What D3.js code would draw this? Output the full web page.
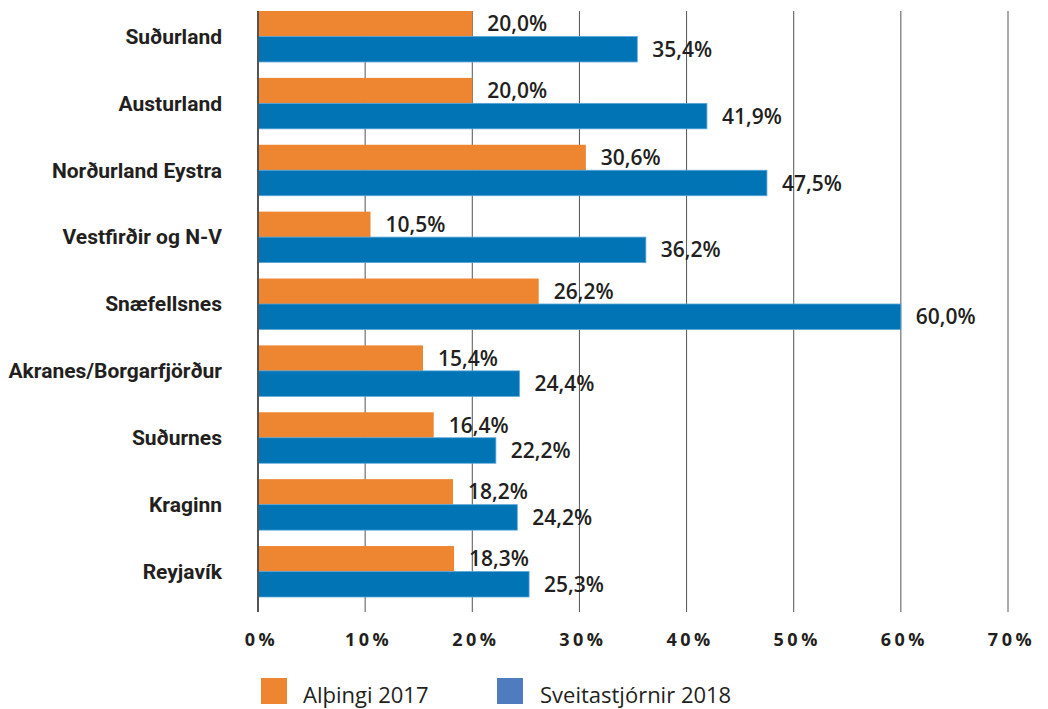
<!DOCTYPE html>
<html>
<head>
<meta charset="utf-8">
<script src="https://cdn.jsdelivr.net/npm/d3@7/dist/d3.min.js"></script>
<style>
  html, body { margin: 0; padding: 0; background: #fff; }
  svg { display: block; }
</style>
</head>
<body>
<svg id="chart" width="1048" height="709"></svg>
<script>
// Kjördæmi, top to bottom
const categories = [
  "Suðurland", "Austurland", "Norðurland Eystra", "Vestfirðir og N-V",
  "Snæfellsnes", "Akranes/Borgarfjörður", "Suðurnes", "Kraginn", "Reyjavík"
];
const seriesNames = ["Alþingi 2017", "Sveitastjórnir 2018"];
const althingi2017 = [20.0, 20.0, 30.6, 10.5, 26.2, 15.4, 16.4, 18.2, 18.3];
const sveitastjornir2018 = [35.4, 41.9, 47.5, 36.2, 60.0, 24.4, 22.2, 24.2, 25.3];
const tickValues = [0, 10, 20, 30, 40, 50, 60, 70];

const barColors = ["#EE8530", "#0074B4"];
const legendColors = ["#EE8530", "#4F7BBF"];

const svg = d3.select("#chart");

const x = d3.scaleLinear().domain([0, 70]).range([258, 1008]);
const y = d3.scaleBand().domain(categories)
  .range([11, 597]).paddingInner(0.238).paddingOuter(0);
const ySub = d3.scaleBand().domain(seriesNames).range([0, y.bandwidth()]);

const gridTop = 11, gridBottom = 612;

// vertical gridlines
svg.append("g").selectAll("line")
  .data(tickValues.filter(t => t > 0))
  .join("line")
  .attr("x1", d => x(d)).attr("x2", d => x(d))
  .attr("y1", gridTop).attr("y2", gridBottom)
  .attr("stroke", "#555").attr("stroke-width", 1);

const fmt = v => v.toFixed(1).replace(".", ",") + "%";

const rows = categories.map((c, i) => ({
  cat: c,
  vals: [althingi2017[i], sveitastjornir2018[i]]
}));

const group = svg.append("g").selectAll("g")
  .data(rows).join("g")
  .attr("transform", d => `translate(0,${y(d.cat)})`);

group.selectAll("rect")
  .data(d => d.vals.map((v, k) => ({ v, k })))
  .join("rect")
  .attr("x", x(0))
  .attr("y", d => ySub(seriesNames[d.k]))
  .attr("width", d => x(d.v) - x(0))
  .attr("height", ySub.bandwidth())
  .attr("fill", d => barColors[d.k])
  .attr("stroke", d => d.k === 1 ? "#5aa5d8" : "none")
  .attr("stroke-width", 0.8);

group.selectAll("text.val")
  .data(d => d.vals.map((v, k) => ({ v, k })))
  .join("text")
  .attr("class", "val")
  .attr("x", d => x(d.v) + 15)
  .attr("y", d => ySub(seriesNames[d.k]) + ySub.bandwidth() / 2)
  .attr("dy", "0.36em")
  .attr("font-family", "'Open Sans', sans-serif")
  .attr("font-weight", 600)
  .attr("font-size", 21)
  .attr("fill", "#231F20")
  .text(d => fmt(d.v));

// category labels
svg.append("g").selectAll("text")
  .data(categories).join("text")
  .attr("x", 222)
  .attr("y", d => y(d) + y.bandwidth() / 2)
  .attr("dy", "0.35em")
  .attr("text-anchor", "end")
  .attr("font-family", "Roboto, sans-serif")
  .attr("font-weight", 700)
  .attr("font-size", 21)
  .attr("fill", "#231F20")
  .text(d => d);

// left axis line
svg.append("line")
  .attr("x1", x(0)).attr("x2", x(0))
  .attr("y1", gridTop).attr("y2", gridBottom)
  .attr("stroke", "#555").attr("stroke-width", 2);

// bottom axis tick labels
const xAxis = d3.axisBottom(x).tickValues(tickValues)
  .tickFormat(d => d + "%").tickSize(0).tickPadding(0);
const axisG = svg.append("g").attr("transform", `translate(0,${gridBottom})`).call(xAxis);
axisG.select(".domain").remove();
axisG.selectAll("text")
  .attr("y", 34)
  .attr("dy", 0)
  .attr("dx", 3)
  .attr("font-family", "'Open Sans', sans-serif")
  .attr("font-weight", 700)
  .attr("font-size", 18)
  .attr("letter-spacing", 3.5)
  .attr("fill", "#231F20");

// legend
const legendX = [261, 497];
const legend = svg.append("g").selectAll("g")
  .data(seriesNames).join("g")
  .attr("transform", (d, i) => `translate(${legendX[i]},678)`);
legend.append("rect")
  .attr("width", 26).attr("height", 26)
  .attr("fill", (d, i) => legendColors[i]);
legend.append("text")
  .attr("x", (d, i) => i === 0 ? 42 : 43)
  .attr("y", 25)
  .attr("font-family", "'Open Sans', sans-serif")
  .attr("font-size", 22)
  .attr("fill", "#231F20")
  .text(d => d);
</script>
</body>
</html>
